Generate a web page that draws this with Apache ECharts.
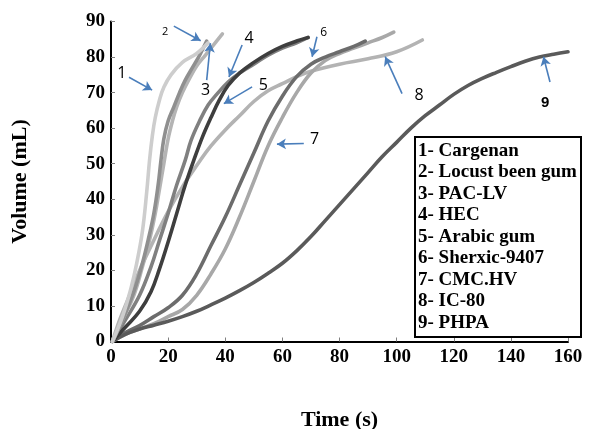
<!DOCTYPE html>
<html>
<head>
<meta charset="utf-8">
<script src="https://cdn.jsdelivr.net/npm/echarts@6/dist/echarts.min.js"></script>
<style>html,body{margin:0;padding:0;background:#fff;}#c{width:589px;height:429px;}</style>
</head>
<body>
<div id="c"></div>
<script>
var names = ['1- Cargenan','2- Locust been gum','3- PAC-LV','4- HEC','5- Arabic gum','6- Sherxic-9407','7- CMC.HV','8- IC-80','9- PHPA'];
var xTicks = [0,20,40,60,80,100,120,140,160];
var yTicks = [0,10,20,30,40,50,60,70,80,90];

var cargenan = [[0.5,0],[4,7],[7,15],[9,22],[11,31],[12.5,42],[13.5,51],[14.5,58],[15.5,63],[17,68],[18.5,71.5],[21,75],[25,78.5],[30,81],[34,84]];
var locust = [[0.5,0],[4,6],[8,14],[11,22],[13,28.5],[15,36],[16.5,44],[17.5,51],[18.5,57],[20,62],[22,66],[24,70],[26,73.5],[28.5,77],[31,80.5],[33.5,84.5]];
var pacLV = [[0.5,0],[4,6],[8,13],[11,21],[13.5,28.5],[15.5,36],[17,43],[18.5,50],[20,57],[21.5,62],[23,66],[25,70],[27.5,74],[30,77.5],[33,80.5],[36,83.5],[39,86.5]];
var hec = [[0.5,0],[5,6],[10,13],[14,21],[17,28.5],[20,36],[23,44],[26,51],[28,56.5],[31,62],[34,66.5],[37,69.5],[41,73],[45,75.5],[50,78],[55,80.5],[60,82.5],[65,84],[69,85.5]];
var arabic = [[0.5,0],[5,4],[10,8.5],[14,14],[17,20.5],[20,28],[23,36],[26,44],[29,51],[32,57.5],[35,63],[38,68],[41,72],[45,75.5],[50,78.5],[55,81],[60,83],[65,84.5],[69,85.5]];
var sherxic = [[0.5,0],[5,2.5],[10,4.5],[15,7],[20,9.5],[25,13],[30,19],[35,27],[40,35],[45,44],[50,53],[55,62],[60,69],[65,74.5],[70,78],[75,80],[80,81.5],[85,83],[89,84.5]];
var cmcHV = [[0.5,0],[5,2],[10,3.5],[15,5],[20,7],[25,9],[30,13],[35,19],[40,26],[45,35],[50,45],[55,55],[60,63],[65,70],[70,75.5],[75,79],[80,81],[85,82.5],[90,84],[95,85.5],[99,87]];
var ic80 = [[0.5,0],[3,6],[6,12],[10,20],[15,28.5],[20,36.5],[25,43.5],[30,49.5],[35,55],[40,59.5],[45,63.5],[50,67.5],[55,70.5],[60,72.5],[65,74.5],[70,76],[80,78],[90,79.5],[100,81.5],[109,84.8]];
var phpa = [[0.5,0],[5,2],[10,3.5],[15,4.6],[20,5.7],[25,7],[30,8.5],[35,10.3],[40,12.2],[45,14.3],[50,16.6],[55,19.2],[60,22],[65,25.5],[70,29.5],[75,34],[80,38.5],[85,43],[90,47.5],[95,52],[100,56],[105,60],[110,63.5],[115,66.5],[120,69.5],[125,72],[130,74],[135,75.7],[140,77.3],[145,78.8],[150,80],[155,80.8],[160,81.5]];

var seriesData = [cargenan, locust, pacLV, hec, arabic, sherxic, cmcHV, ic80, phpa];
var colors = ['#cdcdcd','#8f8f8f','#b4b4b4','#808080','#3e3e3e','#6c6c6c','#a8a8a8','#b3b3b3','#5a5a5a'];
var drawOrder = [7,6,5,8,3,4,2,1,0];

// annotation labels and arrows (data coordinates)
var annLabels = ['1','2','3','4','5','6','7','8','9'];
var annLabelAt = [[3.8,75.5],[19,87],[33.1,70.5],[48.3,85.2],[53.3,72],[74.5,86.8],[71.3,56.8],[107.9,69.3],[152,67.2]];
var annFrom = [[6.3,74.3],[22,88.7],[33.5,73.5],[45.9,83.4],[49.4,71.6],[72.1,85.7],[67.5,55.7],[101.9,69.7],[153.7,73]];
var annTo = [[14.4,70.7],[31.4,84.6],[34.8,83.9],[41.3,74.4],[39.5,66.9],[70.4,80.1],[58.1,55.5],[96,80.1],[151.4,80.1]];
var annSize = [16,11,16,16,16,12,16,16,15];

var chart = echarts.init(document.getElementById('c'), null, {renderer:'canvas'});

var series = drawOrder.map(function(i){
  return {
    name: names[i], type:'line', data: seriesData[i], smooth: 0.4, showSymbol:false, symbol:'none',
    lineStyle:{color:colors[i], width:3.6, cap:'round', join:'round'}, itemStyle:{color:colors[i]}, z: 2
  };
});

series.push({
  type:'line', data:[], silent:true, z:5,
  markLine:{
    silent:true, symbol:['none','arrow'], symbolSize:[8,9], animation:false,
    label:{show:false},
    lineStyle:{color:'#4a7ebb', width:1.6, type:'solid'},
    data: annFrom.map(function(f,k){ return [{coord:f},{coord:annTo[k]}]; })
  },
  markPoint:{
    silent:true, animation:false,
    data: annLabels.map(function(t,k){
      return {coord:annLabelAt[k], symbol:'rect', symbolSize:[1,1], itemStyle:{color:'rgba(0,0,0,0)'},
        label:{show:true, position:'inside', formatter:t, color:'#000', fontSize:annSize[k],
          fontFamily: k===8 ? 'Liberation Sans' : 'Open Sans', fontWeight: k===8 ? 'bold':'normal'}};
    })
  }
});

var serif = 'Liberation Serif';
chart.setOption({
  animation:false,
  backgroundColor:'#fff',
  title:{
    text: names.join('\n'), left:415, top:137,
    borderColor:'#000', borderWidth:2, padding:[3,4,4,3],
    textStyle:{fontFamily:serif, fontWeight:'bold', fontSize:19, lineHeight:21.5, color:'#000'}
  },
  grid:{left:111, right:21, top:21.5, bottom:87.5, containLabel:false, outerBoundsMode:'none'},
  xAxis:{
    type:'value', min:xTicks[0], max:xTicks[xTicks.length-1], interval:xTicks[1]-xTicks[0],
    name:'Time (s)', nameLocation:'middle', nameGap:68,
    nameTextStyle:{fontFamily:serif, fontWeight:'bold', fontSize:22, color:'#000'},
    axisLine:{show:true, lineStyle:{color:'#000', width:2}},
    axisTick:{show:true, inside:true, length:4, lineStyle:{color:'#808080', width:1}},
    axisLabel:{fontFamily:serif, fontWeight:'bold', fontSize:19, color:'#000', margin:6},
    splitLine:{show:false}
  },
  yAxis:{
    type:'value', min:yTicks[0], max:yTicks[yTicks.length-1], interval:yTicks[1]-yTicks[0],
    name:'Volume (mL)', nameLocation:'middle', nameGap:80, nameRotate:90,
    nameTextStyle:{fontFamily:serif, fontWeight:'bold', fontSize:22, color:'#000'},
    axisLine:{show:true, lineStyle:{color:'#000', width:2}},
    axisTick:{show:true, inside:true, length:4, lineStyle:{color:'#808080', width:1}},
    axisLabel:{fontFamily:serif, fontWeight:'bold', fontSize:19, color:'#000', margin:6},
    splitLine:{show:false}
  },
  series: series
});
</script>
</body>
</html>
